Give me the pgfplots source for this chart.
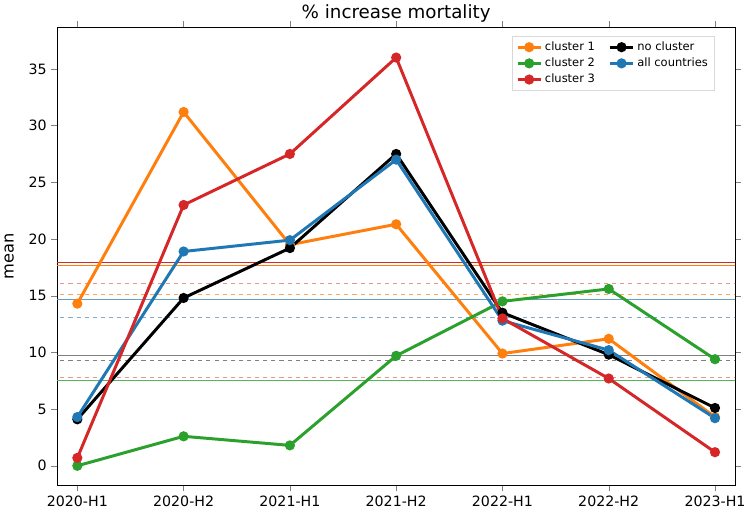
\documentclass[border=0pt]{standalone}
\usepackage{pgfplots}
\pgfplotsset{compat=1.18}
\usepackage{fontspec}
\setmainfont{DejaVu Sans}
\definecolor{c1}{HTML}{FF7F0E}
\definecolor{c2}{HTML}{2CA02C}
\definecolor{c3}{HTML}{D62728}
\definecolor{c4}{HTML}{1F77B4}
\tikzset{thick line/.style={line width=2.2pt,mark=*,mark size=2.6pt},
 thin line/.style={line width=0.6pt,mark=none}}
\begin{document}
\begin{tikzpicture}
\begin{axis}[width=19.2cm,height=13.5cm,
 xmin=-0.19,xmax=6.19,ymin=-1.75,ymax=38.7,
 xtick={0,...,6},xticklabels={2020-H1,2020-H2,2021-H1,2021-H2,2022-H1,2022-H2,2023-H1},
 ytick={0,5,...,35},
 /pgf/number format/assume math mode=true,
 tick label style={font=\fontsize{10.5}{12}\selectfont},
 ylabel={mean},ylabel style={font=\fontsize{12}{14}\selectfont,yshift=4pt},
 title={\% increase mortality},title style={font=\fontsize{13.5}{15}\selectfont,yshift=-6pt},
 tick align=outside,
 legend style={at={(0.97,0.98)},anchor=north east,font=\fontsize{8.5}{10}\selectfont,draw=black!15,legend columns=2,/tikz/every even column/.append style={column sep=8pt}},
 legend cell align=left,
]
\addplot[thin line,c3,forget plot] coordinates {(-1,17.9)(7,17.9)};
\addplot[thin line,c1,forget plot] coordinates {(-1,17.7)(7,17.7)};
\addplot[thin line,c4!70,forget plot] coordinates {(-1,14.7)(7,14.7)};
\addplot[thin line,gray,forget plot] coordinates {(-1,9.7)(7,9.7)};
\addplot[thin line,c2!80,forget plot] coordinates {(-1,7.5)(7,7.5)};
\addplot[thin line,c3!50,dashed,forget plot] coordinates {(-1,16.1)(7,16.1)};
\addplot[thin line,c1!70,dashed,forget plot] coordinates {(-1,15.1)(7,15.1)};
\addplot[thin line,c4!60,dashed,forget plot] coordinates {(-1,13.1)(7,13.1)};
\addplot[thin line,gray,dashed,forget plot] coordinates {(-1,9.3)(7,9.3)};
\addplot[thin line,c3!50,dashed,forget plot] coordinates {(-1,7.8)(7,7.8)};
\addplot[thick line,c1,mark options={fill=c1}] coordinates {(0,14.3)(1,31.2)(2,19.5)(3,21.3)(4,9.9)(5,11.2)(6,4.3)};
\addlegendentry{cluster 1}
\addplot[thick line,black,mark options={fill=black}] coordinates {(0,4.1)(1,14.8)(2,19.2)(3,27.5)(4,13.5)(5,9.8)(6,5.1)};
\addlegendentry{no cluster}
\addplot[thick line,c2,mark options={fill=c2}] coordinates {(0,0)(1,2.6)(2,1.8)(3,9.7)(4,14.5)(5,15.6)(6,9.4)};
\addlegendentry{cluster 2}
\addplot[thick line,c4,mark options={fill=c4}] coordinates {(0,4.3)(1,18.9)(2,19.9)(3,27)(4,12.8)(5,10.2)(6,4.2)};
\addlegendentry{all countries}
\addplot[thick line,c3,mark options={fill=c3}] coordinates {(0,0.7)(1,23)(2,27.5)(3,36)(4,13)(5,7.7)(6,1.2)};
\addlegendentry{cluster 3}
\end{axis}
\end{tikzpicture}
\end{document}
